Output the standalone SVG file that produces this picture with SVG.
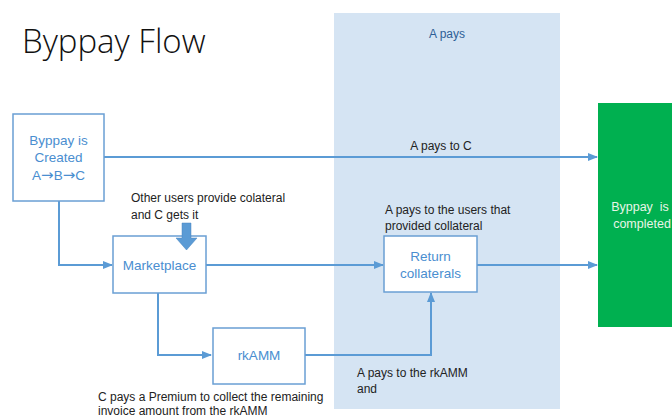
<svg xmlns="http://www.w3.org/2000/svg" width="672" height="420" viewBox="0 0 672 420">
<defs>
<style>
text{font-family:"Liberation Sans",Arial,sans-serif}
.box{fill:#fff;stroke:#6a9fd4;stroke-width:1.5}
.node{fill:#4a8ed0;font-size:13.5px;text-anchor:middle}
.lbl{fill:#222;font-size:12px}
.con{fill:none;stroke:#5b9bd5;stroke-width:2}
.arr{font-family:"DejaVu Sans",sans-serif;font-size:15px}
</style>
<marker id="ah" viewBox="0 0 10 10" refX="9" refY="5" markerWidth="5" markerHeight="5" orient="auto"><path d="M0,1 L10,5 L0,9 z" fill="#5b9bd5"/></marker>
</defs>
<rect width="672" height="420" fill="#fff"/>
<text x="22" y="53" font-size="33" fill="#111" style="font-family:'Open Sans','Liberation Sans',sans-serif;font-weight:300">Byppay Flow</text>
<g id="panel">
<rect x="334" y="13" width="226" height="396" fill="#d5e4f3"/>
<text x="447" y="38" font-size="12" fill="#2e5f96" text-anchor="middle">A pays</text>
</g>
<g id="connectors">
<path class="con" d="M104,157 H597" marker-end="url(#ah)"/>
<path class="con" d="M59,201 V265 H112" marker-end="url(#ah)"/>
<path class="con" d="M206,265 H383" marker-end="url(#ah)"/>
<path class="con" d="M477,265 H597" marker-end="url(#ah)"/>
<path class="con" d="M158,293 V355 H211" marker-end="url(#ah)"/>
<path class="con" d="M305,355 H431 V293" marker-end="url(#ah)"/>
</g>
<g id="created">
<rect class="box" x="13" y="114" width="91" height="87"/>
<text class="node" x="58.5" y="145">Byppay is</text>
<text class="node" x="58.5" y="162">Created</text>
<text class="node" x="58.5" y="180">A<tspan class="arr">→</tspan>B<tspan class="arr">→</tspan>C</text>
</g>
<g id="marketplace">
<rect class="box" x="113" y="236" width="93" height="57"/>
<text class="node" x="159.5" y="270">Marketplace</text>
</g>
<g id="return">
<rect class="box" x="384" y="236" width="93" height="56"/>
<text class="node" x="430.5" y="261">Return</text>
<text class="node" x="430.5" y="278">collaterals</text>
</g>
<g id="rkamm">
<rect class="box" x="213" y="328" width="92" height="56"/>
<text class="node" x="259" y="360">rkAMM</text>
</g>
<g id="completed">
<rect x="598" y="103" width="74" height="224" fill="#00b050"/>
<text x="640" y="211" font-size="12.5" fill="#e8f5e8" text-anchor="middle" xml:space="preserve">Byppay  is</text>
<text x="642" y="228" font-size="12.5" fill="#e8f5e8" text-anchor="middle">completed</text>
</g>
<g id="collateral-arrow">
<path d="M182,223 H191 V238 H197 L186.5,250 L176,238 H182 Z" fill="#5b9bd5" stroke="#4a86c0" stroke-width="0.5"/>
</g>
<g id="labels">
<text class="lbl" x="441" y="150" text-anchor="middle">A pays to C</text>
<text class="lbl" x="131" y="202">Other users provide colateral</text>
<text class="lbl" x="131" y="219">and C gets it</text>
<text class="lbl" x="385" y="214">A pays to the users that</text>
<text class="lbl" x="385" y="230">provided collateral</text>
<text class="lbl" x="357" y="377">A pays to the rkAMM</text>
<text class="lbl" x="357" y="393">and</text>
<text class="lbl" x="98" y="401">C pays a Premium to collect the remaining</text>
<text class="lbl" x="98" y="415">invoice amount from the rkAMM</text>
</g>
</svg>
